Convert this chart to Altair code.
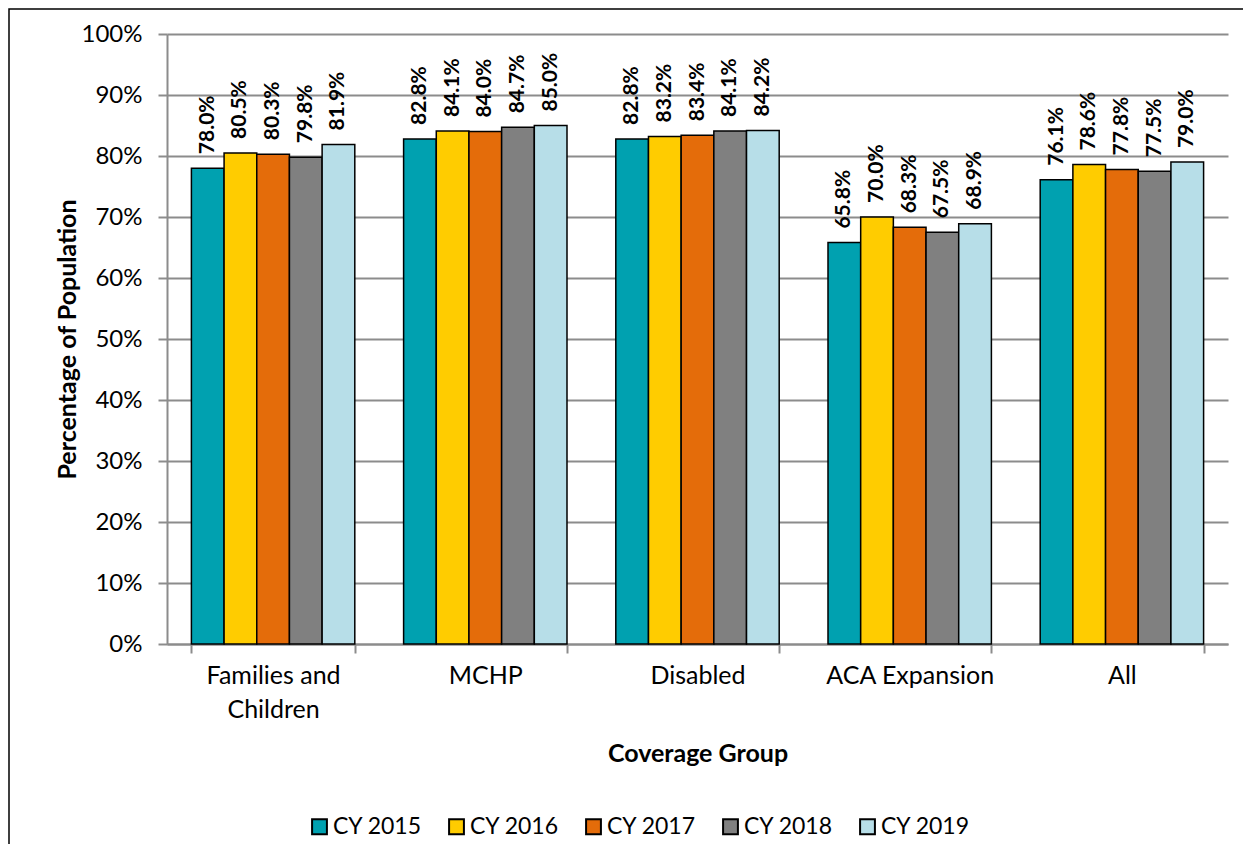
import altair as alt
import pandas as pd

groups = ["Families and Children", "MCHP", "Disabled", "ACA Expansion", "All"]
years = ["CY 2015", "CY 2016", "CY 2017", "CY 2018", "CY 2019"]
colors = ["#00A1B0", "#FFCC00", "#E46C0A", "#808080", "#B7DEE8"]

families = [78.0, 80.5, 80.3, 79.8, 81.9]
mchp = [82.8, 84.1, 84.0, 84.7, 85.0]
disabled = [82.8, 83.2, 83.4, 84.1, 84.2]
aca = [65.8, 70.0, 68.3, 67.5, 68.9]
all_ = [76.1, 78.6, 77.8, 77.5, 79.0]

series = [families, mchp, disabled, aca, all_]
rows = []
for g, vals in zip(groups, series):
    for y, v in zip(years, vals):
        rows.append({"group": g, "year": y, "value": v, "label": f"{v:.1f}%"})
df = pd.DataFrame(rows)

W, H = 1061, 610
FONT = "Lato"
GRAY = "#8c8c8c"

x_enc = alt.X(
    "group:N",
    sort=groups,
    scale=alt.Scale(paddingInner=0.23, paddingOuter=0.115),
    axis=alt.Axis(
        title="Coverage Group",
        labelAngle=0,
        grid=False,
        tickBand="extent",
        tickSize=9,
        labelPadding=10,
        labelFontSize=25,
        labelLineHeight=34,
        labelBaseline="top",
        labelExpr="datum.value == 'Families and Children' ? ['Families and', 'Children'] : datum.value",
        titleFontSize=25,
        titleFontWeight="bold",
        titleY=109,
        titleBaseline="middle",
    ),
)
xo_enc = alt.XOffset("year:N", sort=years, scale=alt.Scale(paddingInner=0, paddingOuter=0))
y_enc = alt.Y(
    "value:Q",
    scale=alt.Scale(domain=[0, 100], nice=False),
    axis=alt.Axis(
        title="Percentage of Population",
        values=list(range(0, 101, 10)),
        labelExpr="datum.value + '%'",
        grid=True,
        tickSize=9,
        labelPadding=16,
        labelFontSize=24,
        titleFontSize=25,
        titleFontWeight="bold",
        titleX=-100,
        titleY=305,
        titleAngle=270,
        titleAlign="center",
        titleBaseline="middle",
    ),
)

base = alt.Chart(df)
bars = base.mark_bar(stroke="black", strokeWidth=1.5).encode(
    x=x_enc,
    xOffset=xo_enc,
    y=y_enc,
    color=alt.Color(
        "year:N",
        sort=years,
        scale=alt.Scale(domain=years, range=colors),
        legend=alt.Legend(
            title=None,
            orient="none",
            legendX=141,
            legendY=781,
            direction="horizontal",
            columns=5,
            symbolType="square",
            symbolSize=220,
            symbolStrokeColor="black",
            symbolStrokeWidth=2,
            labelFontSize=23,
            labelFont=FONT,
            labelOffset=2,
            columnPadding=23,
        ),
    ),
)
labels = base.mark_text(
    angle=270, align="left", baseline="middle", dx=14,
    font=FONT, fontWeight="bold", fontSize=21, color="black",
).encode(x=x_enc, xOffset=xo_enc, y=y_enc, text="label:N")

frame = alt.Chart(pd.DataFrame({"a": [0]})).mark_rect(
    fillOpacity=0, stroke="black", strokeWidth=1.5
).encode(
    x=alt.value(-158), x2=alt.value(W + 200),
    y=alt.value(-25), y2=alt.value(H + 400),
)

chart = alt.layer(bars, labels, frame).properties(
    width=W,
    height=H,
    autosize="none",
    padding={"left": 159, "top": 26, "right": 15, "bottom": 200},
).configure_view(stroke=None).configure_axis(
    domainColor=GRAY,
    domainWidth=2,
    tickColor=GRAY,
    tickWidth=2,
    gridColor=GRAY,
    gridWidth=2,
    labelColor="black",
    labelFont=FONT,
    titleFont=FONT,
    titleColor="black",
).configure_text(font=FONT)

chart.save("out.html", embed_options={"renderer": "svg", "actions": False})
